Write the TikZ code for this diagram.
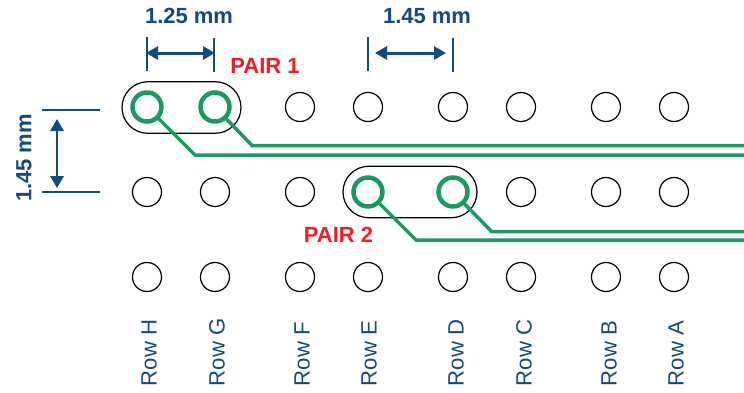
\documentclass[tikz,border=0pt]{standalone}
\usepackage{fontspec}
\setmainfont{Liberation Sans}
\usepackage{xcolor}
\usetikzlibrary{arrows.meta, shapes.misc}
\definecolor{dimblue}{HTML}{124A82}
\definecolor{padgreen}{HTML}{1A9A5F}
\definecolor{pairred}{HTML}{EE1C25}

\begin{document}
\begin{tikzpicture}[
    node distance=1.36cm,
    hole/.style={circle, draw, line width=0.7pt, minimum size=0.58cm, inner sep=0pt},
    pad/.style={circle, draw=padgreen, line width=0.09cm, minimum size=0.58cm, inner sep=0pt},
    pill/.style={rounded rectangle, draw, line width=0.7pt, minimum height=1.03cm, inner sep=0pt},
    trace/.style={draw=padgreen, line width=0.07cm},
    dimtext/.style={text=dimblue, font=\fontsize{12.5}{15}\selectfont\bfseries, inner sep=0pt},
    pairtext/.style={text=pairred, font=\fontsize{12.5}{15}\selectfont\bfseries, inner sep=0pt},
    rowtext/.style={text=dimblue, font=\fontsize{12.6}{15}\selectfont, rotate=90, anchor=west, inner sep=0pt},
    ticks/.style={draw=dimblue, line width=0.6pt},
    arrow/.style={{Triangle[length=0.24cm,width=0.26cm]}-{Triangle[length=0.24cm,width=0.26cm]}, draw=dimblue, line width=0.06cm}
]
    \useasboundingbox (0,0) rectangle (14.88,7.84);
    % Pill outlines
    \node[pill, minimum width=2.38cm] (pill1) at (3.63,5.69) {};
    \node[pill, minimum width=2.68cm] (pill2) at (8.20,4.00) {};
    % Top row
    \node[pad] (h1) at (2.94,5.70) {};
    \node[pad, right of=h1] (g1) {};
    \node[hole, right of=g1, xshift=0.34cm] (f1) {};
    \node[hole, right of=f1] (e1) {};
    \node[hole, right of=e1, xshift=0.34cm] (d1) {};
    \node[hole, right of=d1] (c1) {};
    \node[hole, right of=c1, xshift=0.34cm] (b1) {};
    \node[hole, right of=b1] (a1) {};
    % Middle row
    \node[hole] (h2) at (2.94,4.00) {};
    \node[hole, right of=h2] (g2) {};
    \node[hole, right of=g2, xshift=0.34cm] (f2) {};
    \node[pad, right of=f2] (e2) {};
    \node[pad, right of=e2, xshift=0.34cm] (d2) {};
    \node[hole, right of=d2] (c2) {};
    \node[hole, right of=c2, xshift=0.34cm] (b2) {};
    \node[hole, right of=b2] (a2) {};
    % Bottom row
    \node[hole] (h3) at (2.94,2.30) {};
    \node[hole, right of=h3] (g3) {};
    \node[hole, right of=g3, xshift=0.34cm] (f3) {};
    \node[hole, right of=f3] (e3) {};
    \node[hole, right of=e3, xshift=0.34cm] (d3) {};
    \node[hole, right of=d3] (c3) {};
    \node[hole, right of=c3, xshift=0.34cm] (b3) {};
    \node[hole, right of=b3] (a3) {};
    % Traces
    \coordinate (bendh) at (3.90,4.74);
    \coordinate (endh) at (14.88,4.74);
    \coordinate (bendg) at (5.04,4.93);
    \coordinate (endg) at (14.88,4.93);
    \coordinate (bende) at (8.32,3.04);
    \coordinate (ende) at (14.88,3.04);
    \coordinate (bendd) at (9.83,3.21);
    \coordinate (endd) at (14.88,3.21);
    \draw[trace] (h1) -- (bendh) -- (endh);
    \draw[trace] (g1) -- (bendg) -- (endg);
    \draw[trace] (e2) -- (bende) -- (ende);
    \draw[trace] (d2) -- (bendd) -- (endd);
    % Labels
    \node[dimtext] (width1) at (3.78,7.52) {1.25 mm};
    \node[dimtext] (width2) at (8.54,7.52) {1.45 mm};
    \node[dimtext, rotate=90] (height1) at (0.48,4.68) {1.45 mm};
    \node[pairtext] (pair1) at (5.30,6.52) {PAIR 1};
    \node[pairtext] (pair2) at (6.77,3.14) {PAIR 2};
    \node[rowtext] (rowh) at (2.98,0.11) {Row H};
    \node[rowtext] (rowg) at (4.34,0.11) {Row G};
    \node[rowtext] (rowf) at (6.04,0.11) {Row F};
    \node[rowtext] (rowe) at (7.38,0.11) {Row E};
    \node[rowtext] (rowd) at (9.12,0.11) {Row D};
    \node[rowtext] (rowc) at (10.48,0.11) {Row C};
    \node[rowtext] (rowb) at (12.18,0.11) {Row B};
    \node[rowtext] (rowa) at (13.52,0.11) {Row A};
    % Dimension lines
    \coordinate (w1a) at (2.94,7.10);
    \coordinate (w1b) at (2.94,6.42);
    \coordinate (w1c) at (4.28,7.08);
    \coordinate (w1d) at (4.28,6.40);
    \coordinate (w2a) at (7.36,7.10);
    \coordinate (w2b) at (7.36,6.42);
    \coordinate (w2c) at (9.06,7.08);
    \coordinate (w2d) at (9.06,6.40);
    \coordinate (v1a) at (0.84,5.64);
    \coordinate (v1b) at (2.00,5.64);
    \coordinate (v1c) at (0.84,4.00);
    \coordinate (v1d) at (2.00,4.00);
    \draw[ticks] (w1a) -- (w1b);
    \draw[ticks] (w1c) -- (w1d);
    \draw[ticks] (w2a) -- (w2b);
    \draw[ticks] (w2c) -- (w2d);
    \draw[ticks] (v1a) -- (v1b);
    \draw[ticks] (v1c) -- (v1d);
    \coordinate (a1l) at (2.92,6.78);
    \coordinate (a1r) at (4.30,6.78);
    \coordinate (a2l) at (7.50,6.78);
    \coordinate (a2r) at (8.92,6.78);
    \coordinate (a3t) at (1.14,5.46);
    \coordinate (a3b) at (1.14,4.08);
    \draw[arrow] (a1l) -- (a1r);
    \draw[arrow] (a2l) -- (a2r);
    \draw[arrow] (a3t) -- (a3b);
\end{tikzpicture}
\end{document}
